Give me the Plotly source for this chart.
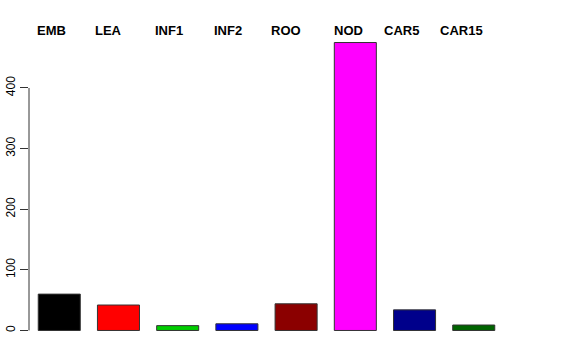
import plotly.graph_objects as go

categories = ["EMB", "LEA", "INF1", "INF2", "ROO", "NOD", "CAR5", "CAR15"]
values = [60, 42, 8, 11, 44, 475, 34, 9]
colors = ["#000000", "#FF0000", "#00CD00", "#0000FF", "#8B0000", "#FF00FF", "#00008B", "#006400"]
label_shift = [-8, -10, -9, -9, -10, -7, -13, -12]
y_ticks = [0, 100, 200, 300, 400]

positions = list(range(len(categories)))

fig = go.Figure()
fig.add_trace(go.Bar(
    x=positions, y=values, width=0.71,
    marker=dict(color=colors, line=dict(color="#333333", width=1)),
    showlegend=False, hoverinfo="skip",
))

for p, name, s in zip(positions, categories, label_shift):
    fig.add_annotation(x=p, y=1, xref="x", yref="paper", text="<b>" + name + "</b>", showarrow=False,
                       xanchor="center", yanchor="middle", xshift=s, yshift=1,
                       font=dict(family="Liberation Sans, Arial, sans-serif", size=13, color="black"))

# R-style axis line spanning only the tick range
fig.add_shape(type="line", xref="paper", yref="y", x0=0, x1=0, y0=y_ticks[0], y1=y_ticks[-1],
              line=dict(color="#333333", width=1))

fig.update_layout(
    width=576, height=360,
    margin=dict(l=29, r=72, t=31, b=18, autoexpand=False),
    paper_bgcolor="white", plot_bgcolor="white",
    xaxis=dict(range=[-0.511, 7.511], showticklabels=False, showgrid=False, zeroline=False,
               showline=False, ticks="", automargin=False),
    yaxis=dict(range=[-19, 494], tickvals=y_ticks, ticks="outside", ticklen=8, tickcolor="#333333",
               tickangle=-90, showgrid=False, zeroline=False, showline=False, automargin=False,
               ticklabelstandoff=0,
               tickfont=dict(family="Liberation Sans, Arial, sans-serif", size=12, color="black")),
)

fig.write_html("out.html")
